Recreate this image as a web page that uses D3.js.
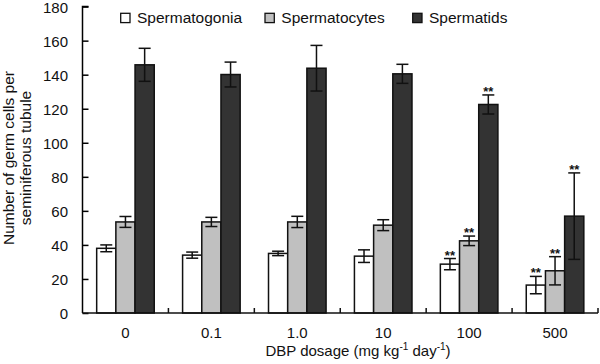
<!DOCTYPE html>
<html>
<head>
<meta charset="utf-8">
<script src="https://cdn.jsdelivr.net/npm/d3@7"></script>
<style>
	body { margin: 0; background: #fff; }
	svg { display: block; font-family: "Liberation Sans", Arial, sans-serif; }
</style>
</head>
<body>
<svg id="chart" width="600" height="364"></svg>
<script>
// values
const doses = ["0", "0.1", "1.0", "10", "100", "500"];
const series = ["Spermatogonia", "Spermatocytes", "Spermatids"];
const spermatogonia = [38, 34, 35, 33.4, 28.7, 16.4];
const spermatogoniaErr = [2, 1.8, 1.3, 3.7, 3.3, 5.1];
const spermatocytes = [53.5, 53.5, 53.5, 51.6, 42.4, 24.8];
const spermatocytesErr = [3.2, 2.7, 3.3, 3.2, 2.8, 8.3];
const spermatids = [145.8, 140.1, 143.8, 140.5, 122.5, 56.9];
const spermatidsErr = [9.7, 7.3, 13.4, 5.6, 5.6, 25.4];
// which bars carry "**"
const significant = [
	[false, false, false, false, true, true],
	[false, false, false, false, true, true],
	[false, false, false, false, true, true]
];
const yTicks = [0, 20, 40, 60, 80, 100, 120, 140, 160, 180];

const colors = ["#ffffff", "#c0c0c0", "#333333"];
const values = [spermatogonia, spermatocytes, spermatids];
const errors = [spermatogoniaErr, spermatocytesErr, spermatidsErr];

let rows = [];
doses.forEach((d, i) => {
	series.forEach((s, j) => {
		rows.push({ dose: d, series: s, k: j, v: values[j][i], e: errors[j][i], sig: significant[j][i] });
	});
});

const svg = d3.select("#chart");
const margin = { left: 82.5, right: 2, top: 6.6, bottom: 51 };
const w = 600, h = 364;

let x0 = d3.scaleBand().domain(doses).range([margin.left, w - margin.right]).padding(0);
let pad = x0.bandwidth() * 0.165;
let x1 = d3.scaleBand().domain(series).range([pad, x0.bandwidth() - pad]);
let y = d3.scaleLinear().domain([0, 180]).range([h - margin.bottom, margin.top]);
let color = d3.scaleOrdinal().domain(series).range(colors);

// y axis, ticks pointing into the plot
let yAxis = svg.append("g")
	.attr("transform", `translate(${margin.left},0)`)
	.call(d3.axisRight(y).tickValues(yTicks).tickSize(6).tickFormat(d3.format("d")));
yAxis.select(".domain").attr("d", `M6,${y(180)}H0V${y(0)}`).attr("stroke-width", 1.5);
yAxis.selectAll(".tick line").attr("stroke-width", 1.5);
yAxis.selectAll(".tick text")
	.attr("x", -14.5)
	.attr("dy", "0.36em")
	.attr("text-anchor", "end")
	.attr("font-size", 15)
	.attr("fill", "#111");

// bars
let groups = svg.append("g").selectAll("g")
	.data(doses)
	.join("g")
	.attr("transform", (d) => `translate(${x0(d)},0)`);

groups.selectAll("rect")
	.data((d) => rows.filter((r) => r.dose === d))
	.join("rect")
	.attr("x", (d) => x1(d.series))
	.attr("width", x1.bandwidth())
	.attr("y", (d) => y(d.v))
	.attr("height", (d) => y(0) - y(d.v))
	.attr("fill", (d) => color(d.series))
	.attr("stroke", "#111")
	.attr("stroke-width", 1.5);

// error bars
let cap = 6;
let err = groups.selectAll("g.err")
	.data((d) => rows.filter((r) => r.dose === d))
	.join("g")
	.classed("err", true)
	.attr("stroke", "#111")
	.attr("stroke-width", 1.5);
err.append("line")
	.attr("x1", (d) => x1(d.series) + x1.bandwidth() / 2)
	.attr("x2", (d) => x1(d.series) + x1.bandwidth() / 2)
	.attr("y1", (d) => y(d.v + d.e))
	.attr("y2", (d) => y(d.v - d.e));
[1, -1].forEach((sgn) => {
	err.append("line")
		.attr("x1", (d) => x1(d.series) + x1.bandwidth() / 2 - cap)
		.attr("x2", (d) => x1(d.series) + x1.bandwidth() / 2 + cap)
		.attr("y1", (d) => y(d.v + sgn * d.e))
		.attr("y2", (d) => y(d.v + sgn * d.e));
});

// significance marks
groups.selectAll("text.sig")
	.data((d) => rows.filter((r) => r.dose === d && r.sig))
	.join("text")
	.classed("sig", true)
	.attr("x", (d) => x1(d.series) + x1.bandwidth() / 2)
	.attr("y", (d) => y(d.v + d.e) + 1)
	.attr("text-anchor", "middle")
	.attr("font-size", 13)
	.attr("font-weight", "bold")
	.attr("fill", "#111")
	.text("**");

// x axis: ticks at group boundaries, pointing up
let xAxis = svg.append("g").attr("transform", `translate(0,${y(0)})`);
xAxis.append("line")
	.attr("x1", margin.left).attr("x2", w - margin.right)
	.attr("stroke", "#111").attr("stroke-width", 1.5);
xAxis.selectAll("line.tk")
	.data(doses)
	.join("line")
	.classed("tk", true)
	.attr("x1", (d) => x0(d) + x0.bandwidth())
	.attr("x2", (d) => x0(d) + x0.bandwidth())
	.attr("y1", 0).attr("y2", -5)
	.attr("stroke", "#111").attr("stroke-width", 1.5);
xAxis.selectAll("text")
	.data(doses)
	.join("text")
	.attr("x", (d) => x0(d) + x0.bandwidth() / 2)
	.attr("y", 25)
	.attr("text-anchor", "middle")
	.attr("font-size", 15)
	.attr("fill", "#111")
	.text((d) => d);

// axis titles
let xt = svg.append("text")
	.attr("x", 358).attr("y", 356)
	.attr("text-anchor", "middle")
	.attr("font-size", 15)
	.attr("fill", "#111");
xt.append("tspan").text("DBP dosage (mg kg");
xt.append("tspan").attr("font-size", 10).attr("dy", -6).text("-1");
xt.append("tspan").attr("dy", 6).text(" day");
xt.append("tspan").attr("font-size", 10).attr("dy", -6).text("-1");
xt.append("tspan").attr("dy", 6).text(")");

let yt = svg.append("text")
	.attr("transform", `translate(13.5,158) rotate(-90)`)
	.attr("text-anchor", "middle")
	.attr("font-size", 15.5)
	.attr("fill", "#111");
yt.append("tspan").attr("x", 0).attr("dy", 0).text("Number of germ cells per");
yt.append("tspan").attr("x", 0).attr("dy", 17.5).text("seminiferous tubule");

// legend
const legendX = [120.7, 265, 412.7];
let legend = svg.append("g").selectAll("g")
	.data(series)
	.join("g")
	.attr("transform", (d, i) => `translate(${legendX[i]},13.3)`);
legend.append("rect")
	.attr("width", 9.3).attr("height", 9.3)
	.attr("fill", (d) => color(d))
	.attr("stroke", "#111")
	.attr("stroke-width", 1.3);
legend.append("text")
	.attr("x", 16.3).attr("y", 9.3)
	.attr("font-size", 15.5)
	.attr("fill", "#111")
	.text((d) => d);
</script>
</body>
</html>
